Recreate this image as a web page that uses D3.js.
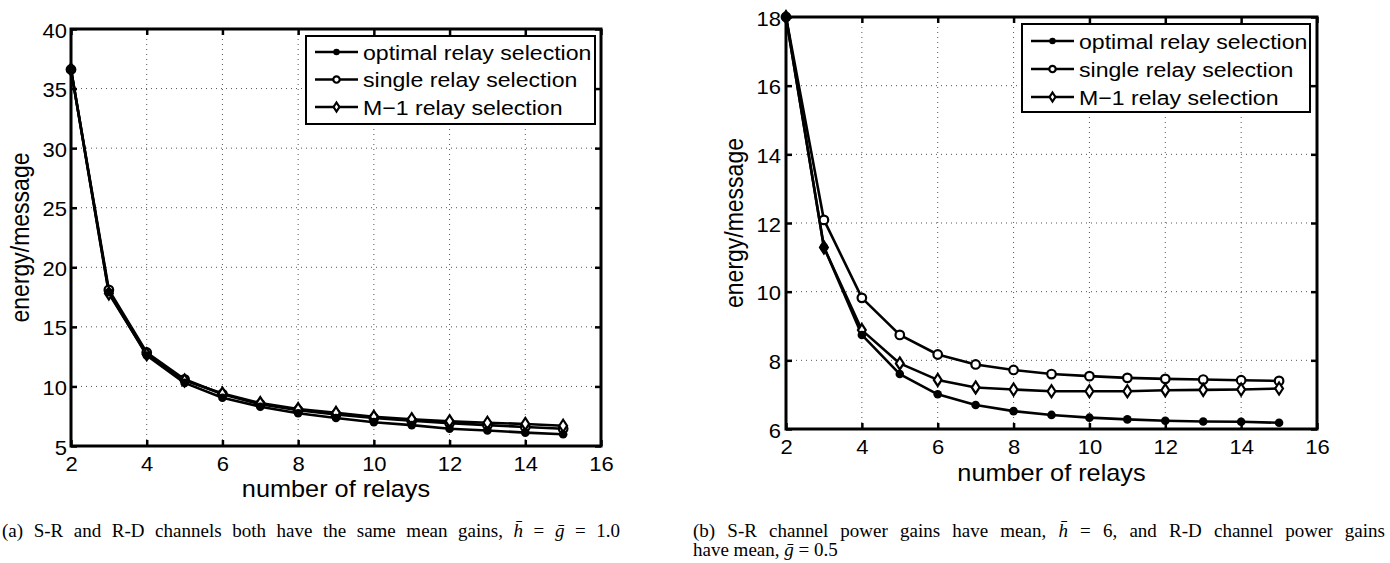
<!DOCTYPE html>
<html><head><meta charset="utf-8">
<script src="https://cdn.jsdelivr.net/npm/d3@7"></script>
<style>body{margin:0;background:#fff} svg{display:block}</style>
</head><body>
<svg id="c" width="1390" height="563"></svg>
<script>
// ---------- data ----------
const relays = [2, 3, 4, 5, 6, 7, 8, 9, 10, 11, 12, 13, 14, 15];
const xTicks = [2, 4, 6, 8, 10, 12, 14, 16];
const seriesNames = ["optimal relay selection", "single relay selection", "M\u22121 relay selection"];

const leftYTicks = [5, 10, 15, 20, 25, 30, 35, 40];
const leftOptimal = [36.6, 17.9, 12.6, 10.3, 9.05, 8.3, 7.75, 7.35, 7.0, 6.75, 6.45, 6.3, 6.12, 5.98];
const leftSingle  = [36.6, 18.1, 12.85, 10.6, 9.35, 8.5, 8.0, 7.65, 7.35, 7.12, 6.92, 6.75, 6.6, 6.45];
const leftM1      = [36.6, 17.8, 12.7, 10.5, 9.4, 8.6, 8.1, 7.78, 7.45, 7.25, 7.08, 6.95, 6.85, 6.7];

const rightYTicks = [6, 8, 10, 12, 14, 16, 18];
const rightOptimal = [18, 11.3, 8.74, 7.6, 7.01, 6.7, 6.52, 6.41, 6.33, 6.28, 6.24, 6.22, 6.21, 6.18];
const rightSingle  = [18, 12.09, 9.82, 8.74, 8.17, 7.88, 7.72, 7.6, 7.54, 7.49, 7.46, 7.44, 7.42, 7.4];
const rightM1      = [18, 11.29, 8.88, 7.91, 7.43, 7.21, 7.15, 7.1, 7.1, 7.1, 7.13, 7.14, 7.15, 7.18];

const xLabel = "number of relays";
const yLabel = "energy/message";
const captionA = [["(a) S-R and R-D channels both have the same mean gains, ", false], ["h\u0304", true], [" = ", false], ["\u1E21", true], [" = 1.0", false]];
const captionB1 = [["(b) S-R channel power gains have mean, ", false], ["h\u0304", true], [" = 6, and R-D channel power gains", false]];
const captionB2 = [["have mean, ", false], ["\u1E21", true], [" = 0.5", false]];

// ---------- drawing ----------
const svg = d3.select("#c");
const SANS = "'Liberation Sans', Arial, Helvetica, sans-serif";
const SERIF = "'Liberation Serif', 'Times New Roman', serif";
const HS = 1.1; // horizontal stretch of the original raster text

function marker(g, type, cx, cy, s) {
  if (type === 0) {
    g.append("circle").attr("cx", cx).attr("cy", cy).attr("r", 4.3 * s).attr("fill", "#000");
  } else if (type === 1) {
    g.append("circle").attr("cx", cx).attr("cy", cy).attr("r", 4.3 * s)
      .attr("fill", "#fff").attr("stroke", "#000").attr("stroke-width", 2.2);
  } else {
    const w = 3.9 * s, h = 6 * s;
    g.append("path").attr("d", `M${cx},${cy - h}L${cx + w},${cy}L${cx},${cy + h}L${cx - w},${cy}Z`)
      .attr("fill", "#fff").attr("stroke", "#000").attr("stroke-width", 2.2);
  }
}

function panel(cfg) {
  const g = svg.append("g");
  const x = d3.scaleLinear().domain([2, 16]).range([cfg.x0, cfg.x1]);
  const y = d3.scaleLinear().domain([cfg.yTicks[0], cfg.yTicks[cfg.yTicks.length - 1]]).range([cfg.y1, cfg.y0]);

  // grid
  const grid = g.append("g").attr("stroke", "#555").attr("stroke-width", 1).attr("stroke-dasharray", "1,4");
  xTicks.slice(1, -1).forEach(t => grid.append("line").attr("x1", x(t)).attr("x2", x(t)).attr("y1", cfg.y0).attr("y2", cfg.y1));
  cfg.yTicks.slice(1, -1).forEach(t => grid.append("line").attr("x1", cfg.x0).attr("x2", cfg.x1).attr("y1", y(t)).attr("y2", y(t)));

  // axes (inward ticks, on all sides)
  const styleAxis = (a) => {
    a.select(".domain").remove();
    a.selectAll(".tick line").attr("stroke", "#000").attr("stroke-width", 2.5);
  };
  const ax = g.append("g").attr("transform", `translate(0,${cfg.y1})`)
    .call(d3.axisBottom(x).tickValues(xTicks).tickSize(-6).tickSizeOuter(0).tickPadding(11).tickFormat(d3.format("d")));
  styleAxis(ax);
  ax.selectAll(".tick text").attr("font-family", SANS).attr("font-size", 20).attr("fill", "#000").attr("transform", `scale(${HS},1)`);
  const ay = g.append("g").attr("transform", `translate(${cfg.x0},0)`)
    .call(d3.axisLeft(y).tickValues(cfg.yTicks).tickSize(-6).tickSizeOuter(0).tickPadding(cfg.yPad).tickFormat(d3.format("d")));
  styleAxis(ay);
  ay.selectAll(".tick text").attr("font-family", SANS).attr("font-size", 20).attr("fill", "#000").attr("dy", "0.4em").attr("transform", `scale(${HS},1)`);
  const at = g.append("g").attr("transform", `translate(0,${cfg.y0})`)
    .call(d3.axisTop(x).tickValues(xTicks).tickSize(-6).tickSizeOuter(0).tickFormat(""));
  styleAxis(at);
  const ar = g.append("g").attr("transform", `translate(${cfg.x1},0)`)
    .call(d3.axisRight(y).tickValues(cfg.yTicks).tickSize(-6).tickSizeOuter(0).tickFormat(""));
  styleAxis(ar);

  // box
  g.append("rect").attr("x", cfg.x0).attr("y", cfg.y0).attr("width", cfg.x1 - cfg.x0).attr("height", cfg.y1 - cfg.y0)
    .attr("fill", "none").attr("stroke", "#000").attr("stroke-width", 3);

  // series
  const line = d3.line().x((d, i) => x(relays[i])).y(d => y(d));
  const order = [1, 2, 0];
  order.forEach(k => {
    const vals = cfg.series[k];
    g.append("path").attr("d", line(vals)).attr("fill", "none").attr("stroke", "#000")
      .attr("stroke-width", 2.6).attr("stroke-linejoin", "round");
  });
  order.forEach(k => {
    const vals = cfg.series[k];
    vals.forEach((v, i) => marker(g, k, x(relays[i]), y(v), 1));
  });

  // axis labels
  g.append("text").attr("transform", `translate(${(cfg.x0 + cfg.x1) / 2},${cfg.xLabelY}) scale(${HS},1)`)
    .attr("text-anchor", "middle").attr("font-family", SANS).attr("font-size", 23).text(xLabel);
  g.append("text").attr("transform", `translate(${cfg.yLabelX},${(cfg.y0 + cfg.y1) / 2}) scale(${HS},1) rotate(-90)`)
    .attr("text-anchor", "middle").attr("font-family", SANS).attr("font-size", 23).text(yLabel);

  // legend
  const L = cfg.legend;
  const lg = g.append("g");
  lg.append("rect").attr("x", L.x).attr("y", L.y).attr("width", L.w).attr("height", L.h)
    .attr("fill", "#fff").attr("stroke", "#000").attr("stroke-width", 2);
  seriesNames.forEach((name, k) => {
    const yy = L.y + L.first + k * L.step;
    lg.append("line").attr("x1", L.x + 9).attr("x2", L.x + 52).attr("y1", yy).attr("y2", yy)
      .attr("stroke", "#000").attr("stroke-width", 2.5);
    marker(lg, k, L.x + 30.5, yy, 0.75);
    lg.append("text").attr("transform", `translate(${L.x + 57},${yy + 7.5}) scale(${HS},1)`)
      .attr("font-family", SANS).attr("font-size", 21).text(name);
  });
}

panel({
  x0: 71, x1: 601, y0: 29, y1: 446, yTicks: leftYTicks, yPad: 3.6,
  series: [leftOptimal, leftSingle, leftM1],
  xLabelY: 497, yLabelX: 29,
  legend: { x: 306, y: 36, w: 289, h: 88, first: 16, step: 27.5 }
});
panel({
  x0: 786, x1: 1317, y0: 17, y1: 429, yTicks: rightYTicks, yPad: 4.5,
  series: [rightOptimal, rightSingle, rightM1],
  xLabelY: 481, yLabelX: 743,
  legend: { x: 1022, y: 24, w: 288, h: 88, first: 17, step: 28 }
});

// captions (justified where the original is justified)
function caption(parts, x, y, width) {
  const t = svg.append("text").attr("x", x).attr("y", y).attr("font-family", SERIF).attr("font-size", 19).attr("fill", "#000")
    .style("white-space", "pre");
  parts.forEach(([s, it]) => t.append("tspan").attr("font-style", it ? "italic" : "normal").text(s));
  if (width) {
    const nat = t.node().getComputedTextLength();
    const spaces = parts.map(p => p[0]).join("").split(" ").length - 1;
    t.attr("word-spacing", Math.max(0, (width - nat) / spaces));
  }
}
caption(captionA, 2, 537, 618);
caption(captionB1, 693, 537, 692);
caption(captionB2, 693, 556, 0);
</script>
</body></html>
